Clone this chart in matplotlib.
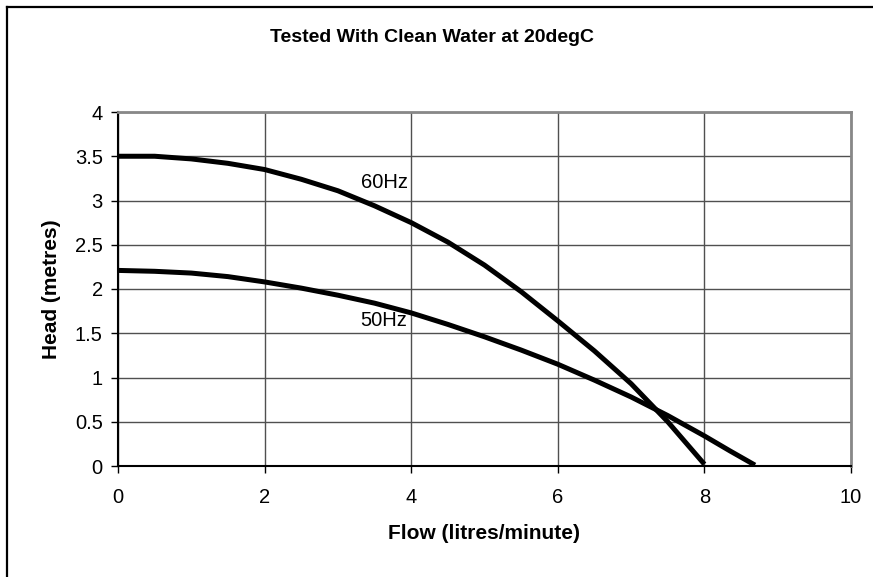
import matplotlib.pyplot as plt
from matplotlib.lines import Line2D

plt.rcParams['font.family'] = ['Liberation Sans', 'DejaVu Sans']

# flow (litres/minute) vs head (metres)
flow_60 = [0, 0.5, 1, 1.5, 2, 2.5, 3, 3.5, 4, 4.5, 5, 5.5, 6, 6.5, 7, 7.5, 8]
head_60 = [3.5, 3.5, 3.47, 3.42, 3.35, 3.24, 3.11, 2.94, 2.75, 2.53, 2.27, 1.97, 1.64, 1.3, 0.93, 0.5, 0.02]

flow_50 = [0, 0.5, 1, 1.5, 2, 2.5, 3, 3.5, 4, 4.5, 5, 5.5, 6, 6.5, 7, 7.5, 8, 8.35, 8.69]
head_50 = [2.21, 2.2, 2.18, 2.14, 2.08, 2.01, 1.93, 1.84, 1.73, 1.6, 1.46, 1.31, 1.15, 0.97, 0.78, 0.57, 0.34, 0.17, 0.01]

x_ticks = [0, 2, 4, 6, 8, 10]
y_ticks = [0, 0.5, 1, 1.5, 2, 2.5, 3, 3.5, 4]
y_labels = ["0", "0.5", "1", "1.5", "2", "2.5", "3", "3.5", "4"]

W, H = 873, 577
fig = plt.figure(figsize=(W / 100, H / 100), dpi=100)
ax = fig.add_axes([118 / W, 1 - 466 / H, (851 - 118) / W, (466 - 112) / H])

ax.plot(flow_60, head_60, color="black", lw=3.6, solid_capstyle="butt", solid_joinstyle="round")
ax.plot(flow_50, head_50, color="black", lw=3.6, solid_capstyle="butt", solid_joinstyle="round")

ax.text(3.31, 3.2, "60Hz", fontsize=14.5, va="center", ha="left")
ax.text(3.31, 1.64, "50Hz", fontsize=14.5, va="center", ha="left")

ax.set_xlim(0, 10)
ax.set_ylim(0, 4)
ax.set_xticks(x_ticks)
ax.set_yticks(y_ticks)
ax.set_yticklabels(y_labels)
ax.tick_params(labelsize=14.5, length=5, width=1, direction="out", color="black")
ax.tick_params(axis="y", pad=6)
ax.tick_params(axis="x", pad=11)
ax.grid(True, color="#505050", lw=1.0)
ax.set_axisbelow(True)

for side in ["top", "right"]:
    ax.spines[side].set_color("#888888")
    ax.spines[side].set_linewidth(2)
for side in ["left", "bottom"]:
    ax.spines[side].set_color("black")
    ax.spines[side].set_linewidth(1.5)

ax.set_xlabel("Flow (litres/minute)", fontsize=15, fontweight="bold", labelpad=12)
ax.set_ylabel("Head (metres)", fontsize=15, fontweight="bold", labelpad=10)
fig.text(432 / W, 1 - 37 / H, "Tested With Clean Water at 20degC",
         fontsize=14, fontweight="bold", ha="center", va="center")

# chart frame (left and top edges visible)
fig.add_artist(Line2D([7 / W, 7 / W], [0, 1 - 7 / H], color="black", lw=1.6, transform=fig.transFigure))
fig.add_artist(Line2D([7 / W, 1], [1 - 7 / H, 1 - 7 / H], color="black", lw=1.6, transform=fig.transFigure))

fig.savefig("out.png", dpi=100)
